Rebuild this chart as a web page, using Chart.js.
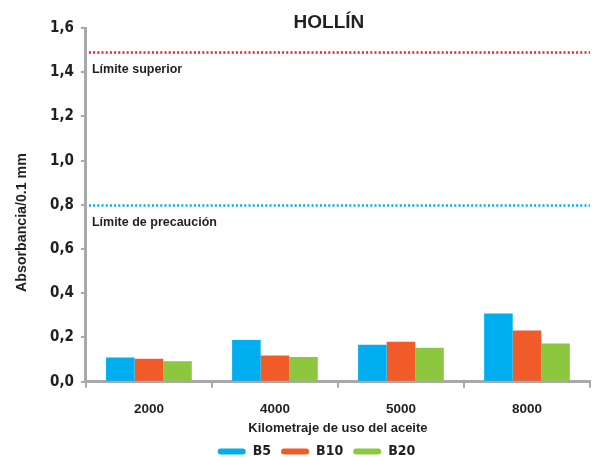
<!DOCTYPE html>
<html>
<head>
<meta charset="utf-8">
<script src="https://cdn.jsdelivr.net/npm/chart.js@4"></script>
<style>
  html, body { margin: 0; padding: 0; background: #ffffff; }
  #wrap { width: 592px; height: 457px; }
</style>
</head>
<body>
<div id="wrap"><canvas id="c" width="592" height="457"></canvas></div>
<script>
// Soot absorbance by oil mileage for three biodiesel blends
const categories = ['2000', '4000', '5000', '8000'];
const seriesNames = ['B5', 'B10', 'B20'];
const b5Values  = [0.110, 0.189, 0.167, 0.309];
const b10Values = [0.104, 0.119, 0.181, 0.232];
const b20Values = [0.092, 0.112, 0.154, 0.173];
const yTicks = [0, 0.2, 0.4, 0.6, 0.8, 1.0, 1.2, 1.4, 1.6];

// Reference limits
const limitValues = [1.49, 0.80];
const limitLabels = ['Límite superior', 'Límite de precaución'];
const limitColors = ['#ED1C24', '#00AEEF'];

const chartTitle = 'HOLLÍN';
const yTitle = 'Absorbancia/0.1 mm';

const seriesColors = ['#00AEEF', '#F15A29', '#8DC63F'];
const axisGray = '#A7A9AC';
const textColor = '#231F20';
const condensed = '"Liberation Sans Narrow", "DejaVu Sans Condensed", "Liberation Sans", sans-serif';
const regular = '"Liberation Sans", Arial, sans-serif';

// Dotted limit lines with their captions just underneath
const limitLines = {
  id: 'limitLines',
  afterDatasetsDraw(chart) {
    const { ctx, chartArea } = chart;
    const y = chart.scales.y;
    ctx.save();
    limitValues.forEach((v, i) => {
      const py = Math.round(y.getPixelForValue(v)) + 0.5;
      ctx.strokeStyle = limitColors[i];
      ctx.lineWidth = 2.5;
      ctx.setLineDash([2, 2.2]);
      ctx.beginPath();
      ctx.moveTo(chartArea.left + 3, py);
      ctx.lineTo(chartArea.right, py);
      ctx.stroke();
      ctx.setLineDash([]);
      ctx.fillStyle = textColor;
      ctx.font = 'bold 12.5px ' + regular;
      ctx.textAlign = 'left';
      ctx.textBaseline = 'middle';
      ctx.fillText(limitLabels[i], chartArea.left + 6, py + 17);
    });
    ctx.restore();
  }
};

// Chart heading and the rotated value-axis caption
const headings = {
  id: 'headings',
  afterDraw(chart) {
    const { ctx, chartArea } = chart;
    const y = chart.scales.y;
    ctx.save();
    ctx.fillStyle = textColor;
    ctx.textAlign = 'center';
    ctx.textBaseline = 'middle';
    ctx.font = 'bold 19px ' + regular;
    ctx.fillText(chartTitle, chartArea.left + 243, 23);
    ctx.translate(22, y.getPixelForValue(0.72));
    ctx.rotate(-Math.PI / 2);
    ctx.font = 'bold 14.2px ' + regular;
    ctx.fillText(yTitle, 0, 0);
    ctx.restore();
  }
};

new Chart(document.getElementById('c'), {
  type: 'bar',
  data: {
    labels: categories,
    datasets: [
      { label: seriesNames[0], data: b5Values,  backgroundColor: seriesColors[0] },
      { label: seriesNames[1], data: b10Values, backgroundColor: seriesColors[1] },
      { label: seriesNames[2], data: b20Values, backgroundColor: seriesColors[2] }
    ]
  },
  options: {
    responsive: false,
    animation: false,
    layout: { padding: { top: 28, right: 2, left: 43, bottom: -11.5 } },
    datasets: {
      bar: { categoryPercentage: 0.68, barPercentage: 1.0 }
    },
    plugins: {
      title: { display: false },
      legend: {
        position: 'bottom',
        fullSize: true,
        labels: {
          color: textColor,
          font: { family: condensed, size: 14, weight: 'bold' },
          boxWidth: 28,
          boxHeight: 6,
          padding: 10,
          useBorderRadius: true,
          borderRadius: 3,
          generateLabels(chart) {
            return chart.data.datasets.map((ds, i) => ({
              text: ds.label,
              fillStyle: ds.backgroundColor,
              strokeStyle: ds.backgroundColor,
              lineWidth: 0,
              borderRadius: 3,
              fontColor: textColor,
              datasetIndex: i,
              hidden: false
            }));
          }
        }
      },
      tooltip: { enabled: false }
    },
    scales: {
      x: {
        grid: { display: true, drawOnChartArea: false, offset: true, color: axisGray, lineWidth: 2, tickLength: 6 },
        border: { color: axisGray, width: 3 },
        ticks: { color: textColor, font: { family: regular, size: 13.5, weight: 'bold' }, padding: 13 },
        title: {
          display: true,
          text: 'Kilometraje de uso del aceite',
          color: textColor,
          font: { family: regular, size: 13, weight: 'bold' },
          padding: { top: -9, bottom: -2 }
        }
      },
      y: {
        min: 0,
        max: 1.6,
        afterBuildTicks(scale) { scale.ticks = yTicks.map(v => ({ value: v })); },
        grid: { display: true, drawOnChartArea: false, color: axisGray, lineWidth: 2, tickLength: 5 },
        border: { color: axisGray, width: 3 },
        ticks: {
          color: textColor,
          font: { family: condensed, size: 15, weight: 'bold' },
          padding: 7,
          callback: (v) => Number(v).toFixed(1).replace('.', ',')
        },
        title: { display: false }
      }
    }
  },
  plugins: [limitLines, headings]
});
</script>
</body>
</html>
